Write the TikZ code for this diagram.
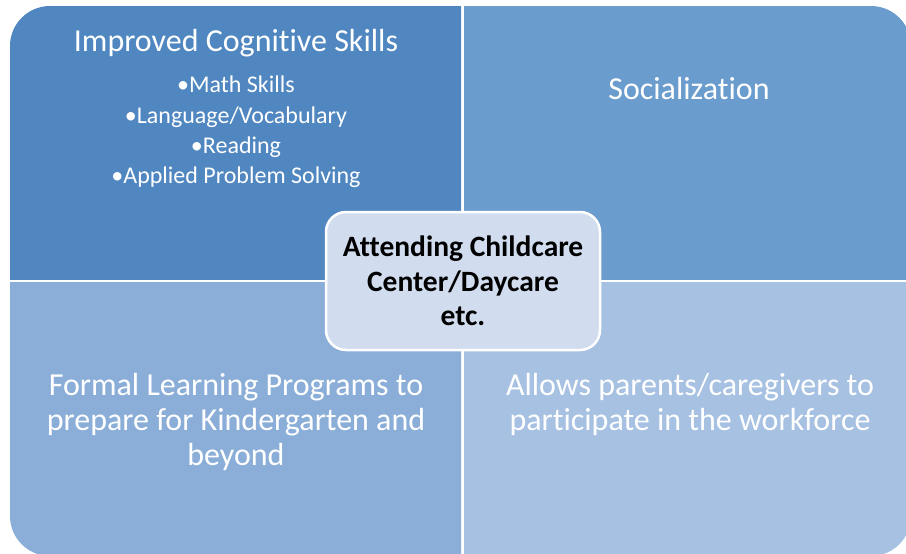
\documentclass[tikz,border=0pt]{standalone}
\usepackage{fontspec}
\setmainfont{Carlito}[Ligatures=NoCommon]
\definecolor{qtl}{RGB}{80,135,192}
\definecolor{qtr}{RGB}{106,156,205}
\definecolor{qbl}{RGB}{138,174,216}
\definecolor{qbr}{RGB}{167,193,227}
\definecolor{qcen}{RGB}{209,221,239}
\tikzset{
  big/.style={font=\fontsize{32}{35}\selectfont, text=white, align=center, inner sep=0pt},
  small/.style={font=\fontsize{24}{30.3}\selectfont, text=white, align=center, inner sep=0pt},
  cenbox/.style={draw=white, line width=2.5pt, fill=qcen, rounded corners=20pt, minimum width=274pt, minimum height=138pt, inner sep=0pt, align=center, font=\fontsize{29.5}{34.5}\selectfont\bfseries, text=black}
}
\newcommand{\outerbox}{(10,6) rectangle (911,556)}
\begin{document}
\begin{tikzpicture}[x=1pt,y=-1pt]
\useasboundingbox (0,0) rectangle (906,554);
\begin{scope}
  \clip (0,0) rectangle (461,279);
  \fill[qtl, rounded corners=40pt] \outerbox;
\end{scope}
\begin{scope}
  \clip (464,0) rectangle (920,279);
  \fill[qtr, rounded corners=40pt] \outerbox;
\end{scope}
\begin{scope}
  \clip (0,282) rectangle (461,570);
  \fill[qbl, rounded corners=40pt] \outerbox;
\end{scope}
\begin{scope}
  \clip (464,282) rectangle (920,570);
  \fill[qbr, rounded corners=40pt] \outerbox;
\end{scope}
\node[big] (tlh) at (236,43) {Improved Cognitive Skills};
\node[small] (tll) at (236,132) {•Math Skills\\•Language/Vocabulary\\•Reading\\•Applied Problem Solving};
\node[big] (trh) at (689,89) {Socialization};
\node[big] (blt) at (236,422) {Formal Learning Programs to\\prepare for Kindergarten and\\beyond};
\node[big] (brt) at (690,404) {Allows parents/caregivers to\\participate in the workforce};
\node[cenbox] (cen) at (463,281) {Attending Childcare\\Center/Daycare\\etc.};
\end{tikzpicture}
\end{document}
